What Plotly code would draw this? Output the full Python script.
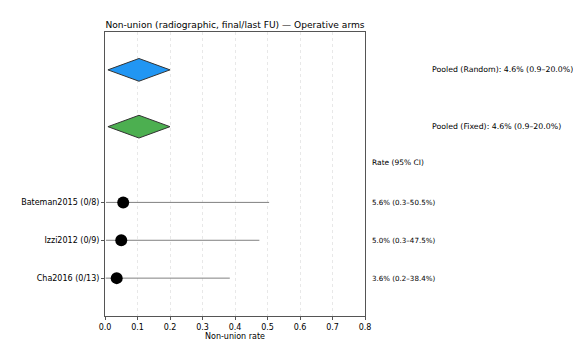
import plotly.graph_objects as go

studies = ["Bateman2015 (0/8)", "Izzi2012 (0/9)", "Cha2016 (0/13)"]
study_y = [2, 1, 0]
rate = [0.056, 0.050, 0.036]
ci_lo = [0.003, 0.003, 0.002]
ci_hi = [0.505, 0.475, 0.384]
study_text = ["5.6% (0.3–50.5%)", "5.0% (0.3–47.5%)", "3.6% (0.2–38.4%)"]

pooled_names = ["Pooled (Random)", "Pooled (Fixed)"]
pooled_y = [5.5, 4]
pooled_lo = [0.009, 0.009]
pooled_hi = [0.200, 0.200]
pooled_text = ["Pooled (Random): 4.6% (0.9–20.0%)", "Pooled (Fixed): 4.6% (0.9–20.0%)"]
pooled_colors = ["#2196F3", "#4CAF50"]

x_ticks = [0.0, 0.1, 0.2, 0.3, 0.4, 0.5, 0.6, 0.7, 0.8]
X_MAX = 0.8

FONT = "DejaVu Sans"
fig = go.Figure()

# CI lines
for y, lo, hi in zip(study_y, ci_lo, ci_hi):
    fig.add_trace(go.Scatter(x=[lo, hi], y=[y, y], mode="lines",
                             line=dict(color="#808080", width=1), showlegend=False, hoverinfo="skip"))
fig.add_trace(go.Scatter(x=rate, y=study_y, mode="markers",
                         marker=dict(color="black", size=12), showlegend=False))

# diamonds
h = 0.3
for y, lo, hi, c in zip(pooled_y, pooled_lo, pooled_hi, pooled_colors):
    mid = (lo + hi) / 2
    fig.add_trace(go.Scatter(x=[lo, mid, hi, mid, lo], y=[y, y + h, y, y - h, y],
                             mode="lines", fill="toself", fillcolor=c,
                             line=dict(color="#333333", width=1), showlegend=False))

anns = []
for y, t in zip(study_y, study_text):
    anns.append(dict(x=0.815 / X_MAX, y=y, xref="paper", yref="y", text=t, showarrow=False,
                     xanchor="left", yanchor="middle", font=dict(size=7.1, family=FONT, color="black")))
for y, t in zip(pooled_y, pooled_text):
    anns.append(dict(x=1.0 / X_MAX, y=y, xref="paper", yref="y", text=t, showarrow=False,
                     xanchor="left", yanchor="middle", font=dict(size=7.8, family=FONT, color="black")))
anns.append(dict(x=0.815 / X_MAX, y=3.05, xref="paper", yref="y", text="Rate (95% CI)", showarrow=False,
                 xanchor="left", yanchor="middle", font=dict(size=7.5, family=FONT, color="black")))

fig.update_layout(
    width=581, height=357,
    margin=dict(l=97, r=224, t=24, b=49, autoexpand=False),
    paper_bgcolor="white", plot_bgcolor="white",
    title=dict(text="Non-union (radiographic, final/last FU) — Operative arms",
               x=(97 + 357) / 2 / 581, xanchor="center", y=1 - 17 / 357, yanchor="middle",
               font=dict(size=9.1, family=FONT, color="black")),
    annotations=anns,
    font=dict(family=FONT, color="black"),
)
fig.update_xaxes(range=[0, X_MAX], tickvals=x_ticks, ticktext=[f"{v:.1f}" for v in x_ticks],
                 showgrid=True, gridcolor="#e8e8e8", griddash="dot", gridwidth=1,
                 showline=True, linecolor="#555555", linewidth=1, mirror=True,
                 ticks="outside", ticklen=3, tickcolor="#555555", zeroline=False,
                 tickfont=dict(size=8, family=FONT), automargin=False,
                 title=dict(text="Non-union rate", font=dict(size=8, family=FONT), standoff=2))
fig.update_yaxes(range=[-1, 6.5], tickvals=study_y, ticktext=studies,
                 showgrid=False, showline=True, linecolor="#555555", linewidth=1, mirror=True,
                 ticks="outside", ticklen=3, tickcolor="#555555", zeroline=False,
                 tickfont=dict(size=8, family=FONT), automargin=False)

fig.write_html("out.html")
